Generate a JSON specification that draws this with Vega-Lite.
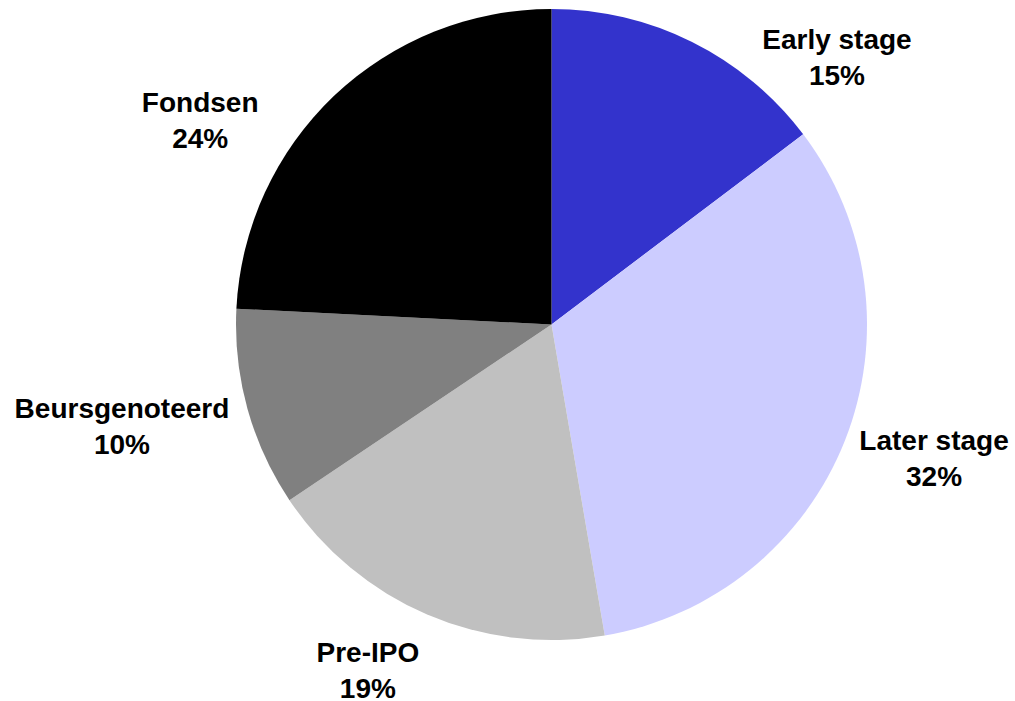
{
  "$schema": "https://vega.github.io/schema/vega-lite/v6.json",
  "width": 900,
  "height": 649,
  "autosize": "none",
  "padding": {"left": 101.5, "top": 0, "right": 13.5, "bottom": 52},
  "background": "white",
  "view": {"stroke": null},
  "data": {
    "values": [
      {"cat": "Early stage", "share": 14.7, "label": "Early stage\n15%"},
      {"cat": "Later stage", "share": 32.6, "label": "Later stage\n32%"},
      {"cat": "Pre-IPO", "share": 18.3, "label": "Pre-IPO\n19%"},
      {"cat": "Beursgenoteerd", "share": 10.2, "label": "Beursgenoteerd\n10%"},
      {"cat": "Fondsen", "share": 24.2, "label": "Fondsen\n24%"}
    ]
  },
  "transform": [{"window": [{"op": "row_number", "as": "idx"}]}],
  "encoding": {
    "theta": {"field": "share", "type": "quantitative", "stack": true},
    "order": {"field": "idx", "type": "quantitative"}
  },
  "layer": [
    {
      "mark": {"type": "arc", "outerRadius": 315.5},
      "encoding": {
        "color": {
          "field": "cat",
          "type": "nominal",
          "scale": {
            "domain": ["Early stage", "Later stage", "Pre-IPO", "Beursgenoteerd", "Fondsen"],
            "range": ["#3333CC", "#CCCCFF", "#C0C0C0", "#808080", "#000000"]
          },
          "legend": null
        }
      }
    },
    {
      "mark": {"type": "text", "radius": 390, "dx": 111.7, "dy": 65.6, "font": "Liberation Sans", "fontSize": 28, "fontWeight": "bold", "lineBreak": "\n", "lineHeight": 36, "align": "center", "baseline": "middle", "color": "black"},
      "encoding": {
        "detail": {"field": "cat", "type": "nominal"},
        "text": {"condition": {"test": "datum.cat === 'Early stage'", "field": "label", "type": "nominal"}, "value": ""}
      }
    },
    {
      "mark": {"type": "text", "radius": 390, "dx": 19.9, "dy": -26.1, "font": "Liberation Sans", "fontSize": 28, "fontWeight": "bold", "lineBreak": "\n", "lineHeight": 36, "align": "center", "baseline": "middle", "color": "black"},
      "encoding": {
        "detail": {"field": "cat", "type": "nominal"},
        "text": {"condition": {"test": "datum.cat === 'Later stage'", "field": "label", "type": "nominal"}, "value": ""}
      }
    },
    {
      "mark": {"type": "text", "radius": 390, "dx": -29.9, "dy": -28.9, "font": "Liberation Sans", "fontSize": 28, "fontWeight": "bold", "lineBreak": "\n", "lineHeight": 36, "align": "center", "baseline": "middle", "color": "black"},
      "encoding": {
        "detail": {"field": "cat", "type": "nominal"},
        "text": {"condition": {"test": "datum.cat === 'Pre-IPO'", "field": "label", "type": "nominal"}, "value": ""}
      }
    },
    {
      "mark": {"type": "text", "radius": 390, "dx": -53.7, "dy": -18.7, "font": "Liberation Sans", "fontSize": 28, "fontWeight": "bold", "lineBreak": "\n", "lineHeight": 36, "align": "center", "baseline": "middle", "color": "black"},
      "encoding": {
        "detail": {"field": "cat", "type": "nominal"},
        "text": {"condition": {"test": "datum.cat === 'Beursgenoteerd'", "field": "label", "type": "nominal"}, "value": ""}
      }
    },
    {
      "mark": {"type": "text", "radius": 390, "dx": -82.6, "dy": 61.9, "font": "Liberation Sans", "fontSize": 28, "fontWeight": "bold", "lineBreak": "\n", "lineHeight": 36, "align": "center", "baseline": "middle", "color": "black"},
      "encoding": {
        "detail": {"field": "cat", "type": "nominal"},
        "text": {"condition": {"test": "datum.cat === 'Fondsen'", "field": "label", "type": "nominal"}, "value": ""}
      }
    }
  ]
}
